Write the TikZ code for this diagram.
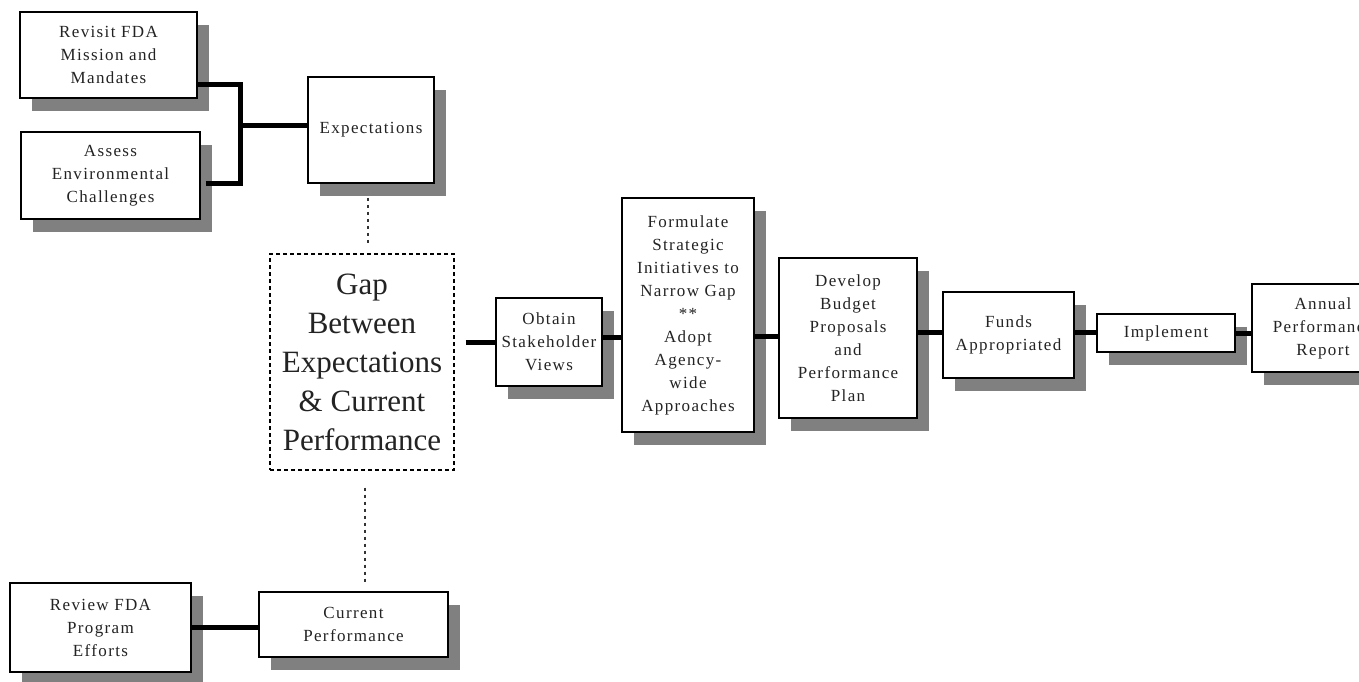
\documentclass[tikz,border=0pt]{standalone}
\usepackage{fontspec}
\setmainfont{Liberation Serif}
\newfontfamily\boxfont[LetterSpace=8]{Liberation Serif}
\usetikzlibrary{shadows,calc}
\definecolor{shgray}{RGB}{128,128,128}
\definecolor{txt}{RGB}{35,35,35}
\begin{document}
\begin{tikzpicture}[x=1pt,y=-1pt,
  box/.style={draw=black, line width=1.6pt, fill=white, align=center, inner sep=0pt,
    drop shadow={shadow xshift=12pt, shadow yshift=-13pt, fill=shgray, opacity=1},
    font={\boxfont\fontsize{17}{23}\selectfont}, text=txt},
  conn/.style={line width=5pt, black},
  dotline/.style={line width=2pt, dash pattern=on 3pt off 4pt, black!80}]
\clip (0,0) rectangle (1359,681);
\fill[white] (0,0) rectangle (1359,681);
% boxes
\node[box, minimum width=177pt, minimum height=86pt] (rev) at (108.5,55) {Revisit FDA\\Mission and\\Mandates};
\node[box, minimum width=179pt, minimum height=87pt] (ass) at (110.5,175.5) {Assess\\Environmental\\Challenges};
\node[box, minimum width=126pt, minimum height=106pt] (exp) at (371,130) {Expectations};
\node[draw=black, line width=1.4pt, dash pattern=on 4pt off 3pt, minimum width=184pt, minimum height=216pt,
  align=center, inner sep=0pt, font=\fontsize{31}{39}\selectfont, text=txt] (gap) at (362,362)
  {Gap\\Between\\Expectations\\\& Current\\Performance};
\node[box, minimum width=106pt, minimum height=88pt] (obt) at (549,342) {Obtain\\Stakeholder\\Views};
\node[box, minimum width=132pt, minimum height=234pt] (for) at (688,315) {Formulate\\Strategic\\Initiatives to\\Narrow Gap\\**\\Adopt\\Agency-\\wide\\Approaches};
\node[box, minimum width=138pt, minimum height=160pt] (dev) at (848,338) {Develop\\Budget\\Proposals\\and\\Performance\\Plan};
\node[box, minimum width=131pt, minimum height=86pt] (fun) at (1008.5,335) {Funds\\Appropriated};
\node[box, minimum width=138pt, minimum height=38pt] (imp) at (1166,333) {Implement};
\node[box, minimum width=142pt, minimum height=88pt] (ann) at (1323,328) {Annual\\Performance\\Report};
\node[box, minimum width=181pt, minimum height=89pt] (rev2) at (100.5,627.5) {Review FDA\\Program\\Efforts};
\node[box, minimum width=189pt, minimum height=65pt] (cur) at (353.5,624.5) {Current\\Performance};
% connectors
\coordinate (j) at (240,125);
\draw[conn] ($(rev.south east)+(0,-14)$) -| (j);
\draw[conn] ($(ass.east)+(5,7.5)$) -| (j);
\draw[conn] (j) -- (j -| exp.west);
\coordinate (d1) at ($(exp.south)+(-3,0)$);
\draw[dotline, shorten <=14pt, shorten >=9pt] (d1) -- (d1 |- gap.north);
\coordinate (d2) at ($(gap.south)+(3,0)$);
\draw[dotline, shorten <=17pt, shorten >=7pt] (d2) -- (d2 |- cur.north);
\draw[conn, shorten <=11pt] (gap.east |- obt.west) -- (obt.west);
\draw[conn] (obt.east |- 0,337) -- (for.west |- 0,337);
\draw[conn] (for.east |- 0,336) -- (dev.west |- 0,336);
\draw[conn] (dev.east |- 0,332) -- (fun.west |- 0,332);
\draw[conn] (fun.east |- 0,332) -- (imp.west |- 0,332);
\draw[conn] (imp.east |- 0,333) -- (ann.west |- 0,333);
\draw[conn] (rev2.east |- 0,627) -- (cur.west |- 0,627);
\end{tikzpicture}
\end{document}
